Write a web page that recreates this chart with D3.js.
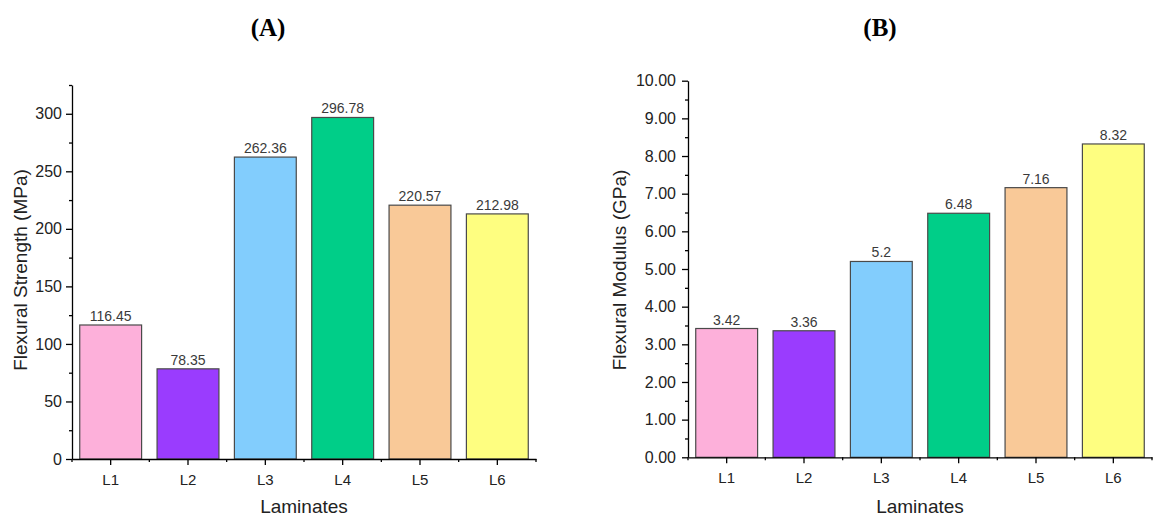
<!DOCTYPE html>
<html>
<head>
<meta charset="utf-8">
<script src="https://cdn.jsdelivr.net/npm/d3@7"></script>
<style>
  body { margin: 0; background: #fff; }
  text { font-family: "Liberation Sans", Arial, sans-serif; }
  .axis path, .axis line { stroke: #000; stroke-width: 1.3; }
</style>
</head>
<body>
<svg id="chart" width="1153" height="518"></svg>
<script>
// data
const laminates = ['L1', 'L2', 'L3', 'L4', 'L5', 'L6'];
const strength = [116.45, 78.35, 262.36, 296.78, 220.57, 212.98];
const modulus = [3.42, 3.36, 5.2, 6.48, 7.16, 8.32];
const strengthLabels = ['116.45', '78.35', '262.36', '296.78', '220.57', '212.98'];
const modulusLabels = ['3.42', '3.36', '5.2', '6.48', '7.16', '8.32'];
const barColors = ['#fdb0da', '#9a3cfe', '#82cdfd', '#00ce88', '#f9c998', '#fefe80'];

const svg = d3.select('#chart');

function drawPanel(opts) {
  const g = svg.append('g');

  const x = d3.scaleBand()
    .domain(laminates)
    .range([opts.left, opts.right])
    .paddingInner(0.2)
    .paddingOuter(0.1);

  const y = d3.scaleLinear()
    .domain([0, opts.yMax])
    .range([opts.bottom, opts.top]);

  // bars
  g.selectAll('rect.bar')
    .data(opts.values)
    .enter()
    .append('rect')
    .attr('class', 'bar')
    .attr('x', (d, i) => x(laminates[i]))
    .attr('y', d => y(d))
    .attr('width', x.bandwidth())
    .attr('height', d => y(0) - y(d))
    .attr('fill', (d, i) => barColors[i])
    .attr('stroke', '#4a4a4a')
    .attr('stroke-width', 1.2);

  // value labels
  g.selectAll('text.value')
    .data(opts.values)
    .enter()
    .append('text')
    .attr('class', 'value')
    .attr('x', (d, i) => x(laminates[i]) + x.bandwidth() / 2)
    .attr('y', d => y(d) - 4)
    .attr('text-anchor', 'middle')
    .attr('font-size', 14)
    .attr('fill', '#3a3a3a')
    .text((d, i) => opts.labels[i]);

  // y axis, major + minor ticks
  const yAxis = g.append('g')
    .attr('class', 'axis')
    .attr('transform', `translate(${opts.left},0)`)
    .call(d3.axisLeft(y)
      .tickValues(opts.yTicks)
      .tickSize(6)
      .tickSizeOuter(0)
      .tickPadding(opts.yPad)
      .tickFormat(opts.yFormat));
  yAxis.selectAll('text').attr('font-size', 16).attr('fill', '#222');

  g.append('g')
    .attr('class', 'axis')
    .attr('transform', `translate(${opts.left},0)`)
    .call(d3.axisLeft(y)
      .tickValues(opts.yMinor)
      .tickSize(3)
      .tickFormat(''))
    .select('.domain').remove();

  // x axis
  const xAxis = g.append('g')
    .attr('class', 'axis')
    .attr('transform', `translate(0,${opts.bottom})`)
    .call(d3.axisBottom(x).tickSize(6).tickSizeOuter(0));
  xAxis.selectAll('text')
    .attr('font-size', 15)
    .attr('fill', '#222')
    .attr('dy', null)
    .attr('y', 26);

  // minor ticks at band boundaries
  const bounds = d3.range(laminates.length + 1).map(i => x.range()[0] + i * x.step());
  g.append('g')
    .selectAll('line')
    .data(bounds)
    .enter()
    .append('line')
    .attr('x1', d => d).attr('x2', d => d)
    .attr('y1', opts.bottom).attr('y2', opts.bottom + 3)
    .attr('stroke', '#000')
    .attr('stroke-width', 1.3);

  // axis titles
  g.append('text')
    .attr('x', (opts.left + opts.right) / 2)
    .attr('y', 513)
    .attr('text-anchor', 'middle')
    .attr('font-size', 19)
    .attr('fill', '#222')
    .text('Laminates');

  g.append('text')
    .attr('transform', `translate(${opts.yTitleX},${opts.yTitleY}) rotate(-90)`)
    .attr('text-anchor', 'middle')
    .attr('font-size', 19)
    .attr('fill', '#222')
    .text(opts.yTitle);

  // panel letter
  g.append('text')
    .attr('x', opts.letterX)
    .attr('y', 36)
    .attr('text-anchor', 'middle')
    .style('font-family', '"Liberation Serif", "Times New Roman", serif')
    .style('font-weight', 'bold')
    .style('font-size', '25px')
    .attr('fill', '#000')
    .text(opts.letter);
}

drawPanel({
  values: strength,
  labels: strengthLabels,
  left: 72, right: 536, top: 85, bottom: 459,
  yMax: 325,
  yTicks: [0, 50, 100, 150, 200, 250, 300],
  yMinor: [25, 75, 125, 175, 225, 275, 325],
  yFormat: d3.format('d'),
  yPad: 4,
  yTitle: 'Flexural Strength (MPa)',
  yTitleX: 27, yTitleY: 270,
  letter: '(A)', letterX: 268
});

drawPanel({
  values: modulus,
  labels: modulusLabels,
  left: 688, right: 1152, top: 80.7, bottom: 457.3,
  yMax: 10,
  yTicks: d3.range(0, 11, 1),
  yMinor: d3.range(0.5, 10, 1),
  yFormat: d3.format('.2f'),
  yPad: 6,
  yTitle: 'Flexural Modulus (GPa)',
  yTitleX: 626, yTitleY: 270,
  letter: '(B)', letterX: 880
});
</script>
</body>
</html>
